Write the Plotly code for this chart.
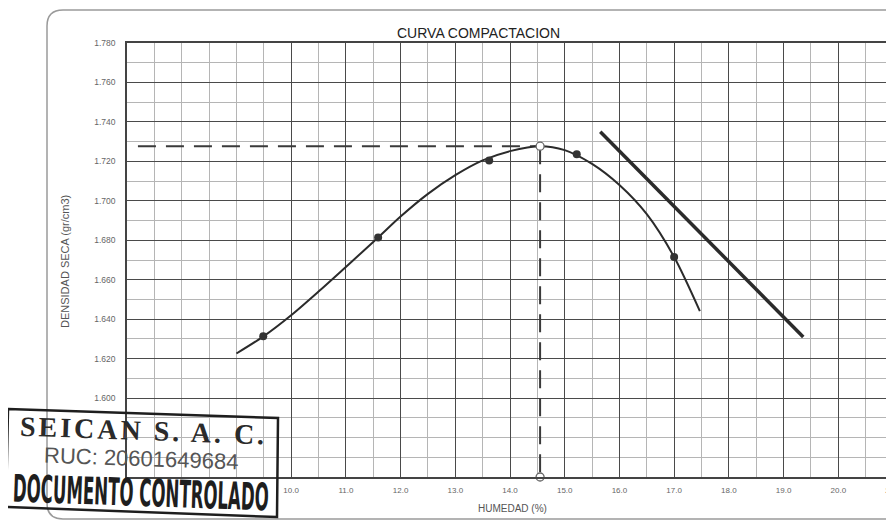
import plotly.graph_objects as go

# ---- data ----
humedad_pts = [9.49, 11.59, 13.62, 15.22, 17.0]
densidad_pts = [1.6314, 1.6814, 1.7205, 1.7236, 1.6715]

curve_x = [9.0, 9.5, 10.0, 10.5, 11.0, 11.59, 12.0, 12.5, 13.0, 13.5, 14.0, 14.55, 15.0, 15.5, 16.0, 16.5, 17.0, 17.47]
curve_y = [1.6226, 1.6314, 1.642, 1.654, 1.6665, 1.6814, 1.692, 1.7035, 1.713, 1.7205, 1.7252, 1.7277, 1.7257, 1.7187, 1.708, 1.6932, 1.6715, 1.6441]

och = 14.55          # optimo contenido de humedad
mds = 1.7277         # maxima densidad seca
dash_start_x = 7.2
y_min, y_max = 1.560, 1.780
x_min, x_max = 7.0, 21.0

sat_x = [15.65, 19.36]
sat_y = [1.735, 1.631]

x_tickvals = [10, 11, 12, 13, 14, 15, 16, 17, 18, 19, 20, 21]
x_ticktext = ["10.0", "11.0", "12.0", "13.0", "14.0", "15.0", "16.0", "17.0", "18.0", "19.0", "20.0", "21.0"]
y_tickvals = [1.60, 1.62, 1.64, 1.66, 1.68, 1.70, 1.72, 1.74, 1.76, 1.78]
y_ticktext = ["1.600", "1.620", "1.640", "1.660", "1.680", "1.700", "1.720", "1.740", "1.760", "1.780"]

INK = "#2b2b2b"
OFF = 8                      # default page margin of the html body
W, H = 894 - OFF, 522 - OFF
L, R, T, B = 127 - OFF, 1, 43 - OFF, 45
PW, PH = W - L - R, H - T - B


def px(xp):  # page pixel x -> paper
    return (xp - OFF - L) / PW


def py(yp):  # page pixel y -> paper
    return (H - B - (yp - OFF)) / PH


fig = go.Figure()

# dashed guide lines
fig.add_trace(go.Scatter(x=[dash_start_x, och], y=[mds, mds], mode="lines",
                         line=dict(color="#3a3a3a", width=2, dash="18px,10px"),
                         hoverinfo="skip", showlegend=False))
fig.add_trace(go.Scatter(x=[och, och], y=[mds, y_min], mode="lines",
                         line=dict(color="#3a3a3a", width=2, dash="18px,10px"),
                         hoverinfo="skip", showlegend=False))

# saturation line
fig.add_trace(go.Scatter(x=sat_x, y=sat_y, mode="lines",
                         line=dict(color=INK, width=3.5), showlegend=False))

# compaction curve
fig.add_trace(go.Scatter(x=curve_x, y=curve_y, mode="lines",
                         line=dict(color=INK, width=2, shape="spline", smoothing=0.8),
                         showlegend=False))

# measured points
fig.add_trace(go.Scatter(x=humedad_pts, y=densidad_pts, mode="markers",
                         marker=dict(color="#333333", size=8, symbol="circle"),
                         showlegend=False))

# hollow markers at the optimum
fig.add_trace(go.Scatter(x=[och, och], y=[mds, y_min], mode="markers",
                         marker=dict(color="white", size=8, symbol="circle",
                                     line=dict(color="#666666", width=1.3)),
                         cliponaxis=False, showlegend=False))

fig.update_xaxes(range=[x_min, x_max], tickmode="array", tickvals=x_tickvals, ticktext=x_ticktext,
                 showgrid=True, gridcolor="#4a4a4a", gridwidth=1.2,
                 minor=dict(dtick=0.5, showgrid=True, gridcolor="#b5b5b5", gridwidth=1),
                 showline=True, linecolor="#444444", linewidth=1.5, mirror=True,
                 ticks="", ticklabelstandoff=5, zeroline=False, ticklabeloverflow="allow",
                 automargin=False,
                 tickfont=dict(family="Liberation Sans, Arial", size=8, color="#666666"))
fig.update_yaxes(range=[y_min, y_max], tickmode="array", tickvals=y_tickvals, ticktext=y_ticktext,
                 showgrid=True, gridcolor="#4a4a4a", gridwidth=1.2,
                 minor=dict(dtick=0.01, tick0=0, showgrid=True, gridcolor="#b5b5b5", gridwidth=1),
                 showline=True, linecolor="#444444", linewidth=1.5, mirror=True,
                 ticks="", ticklabelstandoff=8, zeroline=False, automargin=False,
                 tickfont=dict(family="Liberation Sans, Arial", size=8.5, color="#666666"))

# rounded frame around the chart
fl, ft, fb, fr = px(47), py(10), py(519), px(930)
rx, ry = 16 / PW, 16 / PH
frame_path = (f"M {fl},{fb + ry} L {fl},{ft - ry} Q {fl},{ft} {fl + rx},{ft} "
              f"L {fr},{ft} L {fr},{fb} L {fl + rx},{fb} Q {fl},{fb} {fl},{fb + ry} Z")
shapes = [dict(type="path", xref="paper", yref="paper", path=frame_path,
               line=dict(color="#9a9a9a", width=1.5), layer="below")]

# stamp box (slightly rotated)
p1 = (px(8), py(409)); p2 = (px(278), py(418)); p3 = (px(277), py(517)); p4 = (px(6), py(507))
stamp_path = f"M {p1[0]},{p1[1]} L {p2[0]},{p2[1]} L {p3[0]},{p3[1]} L {p4[0]},{p4[1]} Z"
shapes.append(dict(type="path", xref="paper", yref="paper", path=stamp_path,
                   line=dict(color="#1e1e1e", width=2.5), layer="above"))


def note(text, xpage, ypage, size, color, family="Liberation Sans, Arial", angle=0):
    return dict(text=text, x=px(xpage), y=py(ypage), xref="paper", yref="paper",
                xanchor="center", yanchor="middle", textangle=angle, showarrow=False,
                font=dict(family=family, size=size, color=color))


annotations = [
    note("CURVA COMPACTACION", 478, 33, 14, "#222222"),
    note("HUMEDAD (%)", 512, 508, 10, "#555555"),
    note("DENSIDAD SECA (gr/cm3)", 65, 262, 11, "#555555", angle=-90),
    note("<span style='letter-spacing:3px'><b>SEICAN S. A. C.</b></span>", 143, 430, 28, "#2a2a2a",
         family="Liberation Serif, DejaVu Serif", angle=2),
    note("RUC: 20601649684", 141, 458, 22, "#555555", angle=2),
    note("<b>DOCUMENTO CONTROLADO</b>", 141, 493, 38, "#1e1e1e",
         family="Liberation Sans Narrow, DejaVu Sans Condensed, Liberation Sans", angle=2),
]

fig.update_layout(width=W, height=H, margin=dict(l=L, r=R, t=T, b=B, autoexpand=False),
                  paper_bgcolor="white", plot_bgcolor="white",
                  shapes=shapes, annotations=annotations, showlegend=False)

# condense the stamp's bottom line horizontally (rubber-stamp condensed lettering)
post = """
var gd = document.getElementById('{plot_id}');
function squashStamp(){
  var els = gd.querySelectorAll('text.annotation-text');
  els.forEach(function(t){
    if (t.textContent.indexOf('DOCUMENTO') === 0) {
      t.removeAttribute('transform');
      var b = t.getBBox();
      var s = 256 / b.width;
      if (s < 1) {
        var cx = b.x + b.width / 2;
        t.setAttribute('transform', 'translate(' + cx + ',0) scale(' + s + ',1) translate(' + (-cx) + ',0)');
      }
    }
  });
}
squashStamp();
if (gd.on) { gd.on('plotly_afterplot', squashStamp); }
"""

fig.write_html("out.html", post_script=post)
